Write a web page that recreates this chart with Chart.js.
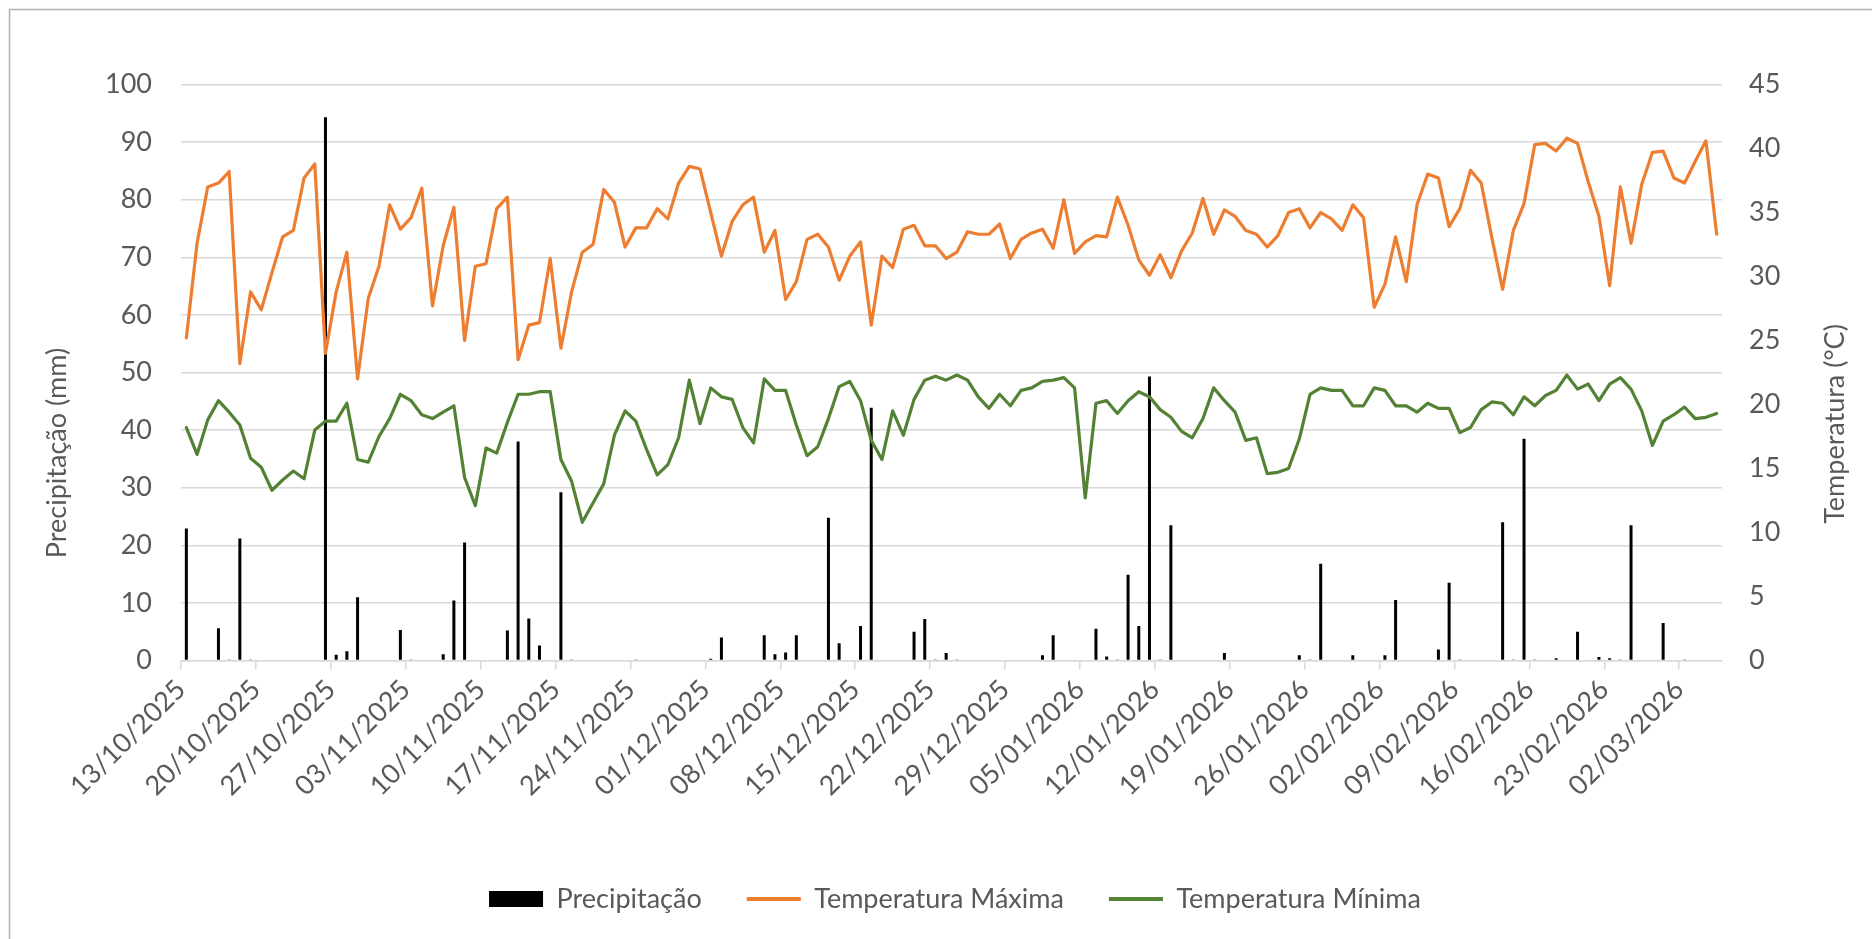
<!DOCTYPE html>
<html>
<head>
<meta charset="utf-8">
<script src="https://cdn.jsdelivr.net/npm/chart.js@4.4.1/dist/chart.umd.min.js"></script>
<style>
html,body{margin:0;padding:0;background:#fff;}
canvas{display:block;}
</style>
</head>
<body>
<canvas id="c" width="1872" height="939"></canvas>
<script>
// ---- categories: daily dates 13/10/2025 .. 05/03/2026 ----
const monthSpans = [
  ["10", "2025", 13, 31],
  ["11", "2025", 1, 30],
  ["12", "2025", 1, 31],
  ["01", "2026", 1, 31],
  ["02", "2026", 1, 28],
  ["03", "2026", 1, 5]
];
const dates = [];
monthSpans.forEach(([m, y, a, b]) => {
  for (let d = a; d <= b; d++) dates.push(String(d).padStart(2, "0") + "/" + m + "/" + y);
});
const labelEvery = 7;

// ---- series ----
const precipitacao = [
  22.9, 0, 0, 5.6, 0.1, 21.2, 0.1, 0, 0, 0,
  0, 0, 0, 94.3, 1.0, 1.6, 11.0, 0, 0, 0,
  5.3, 0.1, 0, 0, 1.1, 10.4, 20.5, 0, 0, 0,
  5.2, 38.0, 7.3, 2.6, 0, 29.2, 0.1, 0, 0, 0,
  0, 0, 0.1, 0, 0, 0, 0, 0, 0, 0.3,
  4.0, 0, 0, 0, 4.4, 1.1, 1.4, 4.4, 0, 0,
  24.8, 3.0, 0, 6.0, 43.9, 0, 0, 0, 5.0, 7.2,
  0.1, 1.3, 0.1, 0, 0, 0, 0, 0, 0, 0,
  0.9, 4.4, 0, 0, 0, 5.5, 0.7, 0.1, 14.9, 6.0,
  49.3, 0.1, 23.5, 0, 0, 0, 0, 1.3, 0, 0,
  0, 0, 0, 0, 0.9, 0.1, 16.8, 0, 0, 0.9,
  0, 0, 0.9, 10.5, 0, 0, 0, 1.9, 13.5, 0.1,
  0, 0, 0, 24.0, 0.1, 38.5, 0.1, 0, 0.4, 0,
  5.0, 0, 0.6, 0.4, 0.1, 23.5, 0, 0, 6.5, 0,
  0.1, 0, 0, 0
];
const tempMax = [
  25.2, 32.6, 37.0, 37.3, 38.2, 23.2, 28.8, 27.4, 30.3, 33.1,
  33.6, 37.7, 38.8, 24.0, 28.8, 31.9, 22.0, 28.3, 30.8, 35.6,
  33.7, 34.6, 36.9, 27.7, 32.4, 35.4, 25.0, 30.8, 31.0, 35.3,
  36.2, 23.5, 26.2, 26.4, 31.4, 24.4, 28.8, 31.9, 32.5, 36.8,
  35.8, 32.3, 33.8, 33.8, 35.3, 34.5, 37.3, 38.6, 38.4, 35.0,
  31.6, 34.3, 35.6, 36.2, 31.9, 33.6, 28.2, 29.6, 32.9, 33.3,
  32.3, 29.7, 31.6, 32.7, 26.2, 31.6, 30.7, 33.7, 34.0, 32.4,
  32.4, 31.4, 31.9, 33.5, 33.3, 33.3, 34.1, 31.4, 32.9, 33.4,
  33.7, 32.2, 36.0, 31.8, 32.7, 33.2, 33.1, 36.2, 34.0, 31.3,
  30.1, 31.7, 29.9, 32.0, 33.4, 36.1, 33.3, 35.2, 34.7, 33.6,
  33.3, 32.3, 33.2, 35.0, 35.3, 33.8, 35.0, 34.5, 33.6, 35.6,
  34.6, 27.6, 29.4, 33.1, 29.6, 35.6, 38.0, 37.7, 33.9, 35.3,
  38.3, 37.3, 33.0, 29.0, 33.6, 35.7, 40.3, 40.4, 39.8, 40.8,
  40.4, 37.4, 34.7, 29.3, 37.0, 32.6, 37.2, 39.7, 39.8, 37.7,
  37.3, 39.0, 40.6, 33.3
];
const tempMin = [
  18.2, 16.1, 18.8, 20.3, 19.4, 18.4, 15.8, 15.1, 13.3, 14.1,
  14.8, 14.2, 18.0, 18.7, 18.7, 20.1, 15.7, 15.5, 17.5, 18.9,
  20.8, 20.3, 19.2, 18.9, 19.4, 19.9, 14.3, 12.1, 16.6, 16.2,
  18.6, 20.8, 20.8, 21.0, 21.0, 15.7, 14.0, 10.8, 12.3, 13.8,
  17.6, 19.5, 18.7, 16.5, 14.5, 15.3, 17.4, 21.9, 18.5, 21.3,
  20.6, 20.4, 18.2, 17.0, 22.0, 21.1, 21.1, 18.4, 16.0, 16.7,
  18.9, 21.4, 21.8, 20.3, 17.2, 15.7, 19.5, 17.6, 20.4, 21.9,
  22.2, 21.9, 22.3, 21.9, 20.6, 19.7, 20.8, 19.9, 21.1, 21.3,
  21.8, 21.9, 22.1, 21.3, 12.7, 20.1, 20.3, 19.3, 20.3, 21.0,
  20.6, 19.6, 19.0, 17.9, 17.4, 18.9, 21.3, 20.3, 19.4, 17.2,
  17.4, 14.6, 14.7, 15.0, 17.3, 20.8, 21.3, 21.1, 21.1, 19.9,
  19.9, 21.3, 21.1, 19.9, 19.9, 19.4, 20.1, 19.7, 19.7, 17.8,
  18.2, 19.6, 20.2, 20.1, 19.2, 20.6, 19.9, 20.7, 21.1, 22.3,
  21.2, 21.6, 20.3, 21.6, 22.1, 21.2, 19.5, 16.8, 18.7, 19.2,
  19.8, 18.9, 19.0, 19.3
];

// ---- axis ranges ----
const precipAxis = { min: 0, max: 100, step: 10 };
const tempAxis = { min: 0, max: 45, step: 5 };

// ---- texts ----
const seriesNames = ["Precipitação", "Temperatura Máxima", "Temperatura Mínima"];
const leftTitle = "Precipitação (mm)";
const rightTitle = "Temperatura (°C)";

// ---- style ----
const FONT = "Lato, 'Open Sans', sans-serif";
const FS = 27;
const TXT = "#595959";
const GRID = "#d9d9d9";
const PAD_BOTTOM = 16.5;
const AREA_BOTTOM = 660.5;

const framePlugin = {
  id: "frame",
  beforeDraw(chart) {
    const c = chart.ctx;
    c.save();
    c.fillStyle = "#fff";
    c.fillRect(0, 0, chart.width, chart.height);
    c.strokeStyle = "#b0b0b0";
    c.lineWidth = 1.5;
    c.strokeRect(9.5, 9.5, chart.width + 20, chart.height + 20);
    c.restore();
  }
};

const axisTitlePlugin = {
  id: "axisTitles",
  afterDraw(chart) {
    const c = chart.ctx;
    c.save();
    c.fillStyle = TXT;
    c.font = FS + "px " + FONT;
    c.textAlign = "center";
    c.textBaseline = "middle";
    c.translate(57, 453);
    c.rotate(-Math.PI / 2);
    c.fillText(leftTitle, 0, 0);
    c.restore();
    c.save();
    c.fillStyle = TXT;
    c.font = FS + "px " + FONT;
    c.textAlign = "center";
    c.textBaseline = "middle";
    c.translate(1835, 424);
    c.rotate(-Math.PI / 2);
    c.fillText(rightTitle, 0, 0);
    c.restore();
  }
};

new Chart(document.getElementById("c"), {
  type: "bar",
  data: {
    labels: dates,
    datasets: [
      {
        type: "bar",
        label: seriesNames[0],
        data: precipitacao,
        yAxisID: "yP",
        backgroundColor: "#000000",
        borderWidth: 0,
        inflateAmount: 0,
        barThickness: 3,
        pointStyle: "rect",
        order: 2
      },
      {
        type: "line",
        label: seriesNames[1],
        data: tempMax,
        yAxisID: "yT",
        borderColor: "#ED7D31",
        backgroundColor: "#ED7D31",
        borderWidth: 3.2,
        borderJoinStyle: "round",
        borderCapStyle: "round",
        pointRadius: 0,
        pointHoverRadius: 0,
        pointBorderWidth: 4,
        pointStyle: "line",
        tension: 0,
        fill: false,
        order: 1
      },
      {
        type: "line",
        label: seriesNames[2],
        data: tempMin,
        yAxisID: "yT",
        borderColor: "#548235",
        backgroundColor: "#548235",
        borderWidth: 3.2,
        borderJoinStyle: "round",
        borderCapStyle: "round",
        pointRadius: 0,
        pointHoverRadius: 0,
        pointBorderWidth: 4,
        pointStyle: "line",
        tension: 0,
        fill: false,
        order: 1
      }
    ]
  },
  options: {
    responsive: false,
    animation: false,
    layout: { padding: { left: 38, right: 0, top: 84.5, bottom: PAD_BOTTOM } },
    plugins: {
      tooltip: { enabled: false },
      legend: {
        position: "bottom",
        labels: {
          usePointStyle: true,
          pointStyleWidth: 54,
          boxHeight: 16,
          padding: 45,
          color: TXT,
          font: { family: FONT, size: FS },
          sort: (a, b) => a.datasetIndex - b.datasetIndex
        }
      }
    },
    scales: {
      x: {
        type: "category",
        offset: true,
        afterFit: (s) => { s.height = s.chart.height - PAD_BOTTOM - (s.chart.legend ? s.chart.legend.height : 82) - AREA_BOTTOM; },
        grid: {
          display: true,
          offset: true,
          drawOnChartArea: false,
          drawTicks: true,
          tickLength: 9,
          lineWidth: 1.5,
          color: (ctx) => (ctx.index % labelEvery === 0 ? GRID : "rgba(0,0,0,0)")
        },
        border: { display: true, color: GRID, width: 1.5 },
        ticks: {
          autoSkip: false,
          maxRotation: 45,
          minRotation: 45,
          labelOffset: -5.35,
          padding: 4,
          color: TXT,
          font: { family: FONT, size: FS },
          callback: (v, i) => (i % labelEvery === 0 ? dates[i] : "")
        }
      },
      yP: {
        type: "linear",
        position: "left",
        min: precipAxis.min,
        max: precipAxis.max,
        afterFit: (s) => { s.width = 143; },
        grid: { color: GRID, lineWidth: 1.5, drawTicks: false },
        border: { display: false },
        ticks: {
          stepSize: precipAxis.step,
          padding: 29,
          color: TXT,
          font: { family: FONT, size: FS }
        }
      },
      yT: {
        type: "linear",
        position: "right",
        min: tempAxis.min,
        max: tempAxis.max,
        afterFit: (s) => { s.width = 150; },
        grid: { drawOnChartArea: false, drawTicks: false },
        border: { display: false },
        ticks: {
          stepSize: tempAxis.step,
          padding: 27,
          color: TXT,
          font: { family: FONT, size: FS }
        }
      }
    }
  },
  plugins: [framePlugin, axisTitlePlugin]
});
</script>
</body>
</html>
